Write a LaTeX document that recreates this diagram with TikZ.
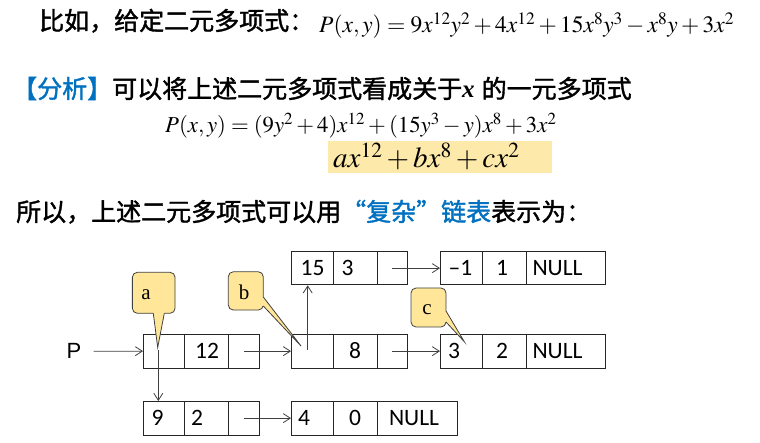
\documentclass[tikz,border=0pt]{standalone}
\usepackage{mathptmx}
\usepackage{fontspec}
\setmainfont{Liberation Serif}
\newfontfamily\cjkfont{Noto Sans CJK SC}[FakeBold=1.5]
\newfontfamily\calfont{Carlito}
\newfontfamily\arfont{Liberation Sans}
\usetikzlibrary{arrows.meta}
\definecolor{cblue}{HTML}{0070C0}
\definecolor{cfill}{HTML}{FFE699}
\definecolor{hfill}{HTML}{FDE9A9}
\definecolor{lgray}{HTML}{404040}
\tikzset{
  cell/.style={draw=black!85, line width=0.8pt, minimum height=33.5pt, inner sep=0pt, anchor=north west},
  ctext/.style={font=\calfont\fontsize{23.5}{28}\selectfont, inner sep=0pt},
  arr/.style={draw=lgray, line width=0.8pt, -{Straight Barb[length=7pt,width=9pt]}},
  callbox/.style={draw=lgray, fill=cfill, line width=0.8pt, rounded corners=5pt, inner sep=0pt},
  calltext/.style={font=\fontsize{21}{25}\selectfont, inner sep=0pt},
  txt/.style={inner sep=0pt, anchor=base west},
  cjk/.style={font=\cjkfont\fontsize{25}{30}\selectfont}
}
\begin{document}
\begin{tikzpicture}[x=1pt,y=-1pt]
\useasboundingbox (0,0) rectangle (760,443);
% ---- texts
\node[txt,cjk] (l1) at (39,30) {比如，给定二元多项式：};
\node[txt,font=\fontsize{23.5}{28}\selectfont] (f1) at (319,33) {$P(x,y)=9x^{12}y^2+4x^{12}+15x^8y^3-x^8y+3x^2$};
\node[txt,cjk] (l2) at (12,98) {{\color{cblue}【分析】}可以将上述二元多项式看成关于{\rmfamily\bfseries\itshape x}\hspace{7pt}的一元多项式};
\node[txt,font=\fontsize{22.8}{27}\selectfont] (f2) at (165,133) {$P(x,y)=(9y^2+4)x^{12}+(15y^3-y)x^8+3x^2$};
\node[fill=hfill, minimum width=224pt, minimum height=32pt, inner sep=0pt, anchor=north west] (hb) at (328,141) {};
\node[txt,font=\fontsize{29}{34}\selectfont] (f3) at (333,168) {$ax^{12}+bx^8+cx^2$};
\node[txt,cjk] (l4) at (16,221) {所以，上述二元多项式可以用{\color{cblue}“复杂”链表}表示为：};
% ---- cells
% main row
\node[cell,minimum width=41pt] (n1a) at (143,334) {};
\node[cell,minimum width=44pt] (n1b) at (184,334) {};
\node[cell,minimum width=31pt] (n1c) at (228,334) {};
\node[cell,minimum width=42pt] (n2a) at (291,334) {};
\node[cell,minimum width=44pt] (n2b) at (333,334) {};
\node[cell,minimum width=30pt] (n2c) at (377,334) {};
\node[cell,minimum width=42pt] (n3a) at (440,334) {};
\node[cell,minimum width=44pt] (n3b) at (482,334) {};
\node[cell,minimum width=79pt] (n3c) at (526,334) {};
% top row
\node[cell,minimum width=42pt] (t1a) at (291,251) {};
\node[cell,minimum width=44pt] (t1b) at (333,251) {};
\node[cell,minimum width=30pt] (t1c) at (377,251) {};
\node[cell,minimum width=42pt] (t2a) at (440,251) {};
\node[cell,minimum width=44pt] (t2b) at (482,251) {};
\node[cell,minimum width=79pt] (t2c) at (526,251) {};
% bottom row
\node[cell,minimum width=41pt] (b1a) at (143,401) {};
\node[cell,minimum width=44pt] (b1b) at (184,401) {};
\node[cell,minimum width=31pt] (b1c) at (228,401) {};
\node[cell,minimum width=42pt] (b2a) at (291,401) {};
\node[cell,minimum width=44pt] (b2b) at (333,401) {};
\node[cell,minimum width=80pt] (b2c) at (377,401) {};
% cell texts
\node[ctext] (x1) at (207,351) {12};
\node[ctext] (x2) at (355,351) {8};
\node[ctext] (x3) at (454,351) {3};
\node[ctext] (x4) at (502,351) {2};
\node[ctext] (x5) at (557.5,351) {NULL};
\node[ctext] (x6) at (312.5,268) {15};
\node[ctext] (x7) at (347.5,268) {3};
\node[ctext] (x8) at (460.5,268) {–1};
\node[ctext] (x9) at (502,268) {1};
\node[ctext] (x10) at (557.5,268) {NULL};
\node[ctext] (x11) at (157.5,418) {9};
\node[ctext] (x12) at (197,418) {2};
\node[ctext] (x13) at (304,418) {4};
\node[ctext] (x14) at (355,418) {0};
\node[ctext] (x15) at (414,418) {NULL};
\node[inner sep=0pt, font=\arfont\fontsize{22}{26}\selectfont] (P) at (74,351.3) {P};
% ---- arrows
\draw[arr, shorten <=12pt] (P) -- (n1a.west);
\draw[arr] (n1c.center) -- (n2a.west);
\draw[arr] (n2c.center) -- (n3a.west);
\draw[arr] (t1c.center) -- (t2a.west);
\draw[arr] (b1c.center) -- (b2a.west);
\coordinate (da) at (158.3,350);
\coordinate (ua) at (307.7,350);
\draw[arr] (da) -- (da |- b1a.north);
\draw[arr] (ua) -- (ua |- t1a.south);
% ---- callouts
\coordinate (tipa) at (157.7,347.5);
\coordinate (tipb) at (301,346);
\coordinate (tipc) at (464.3,341.7);
\node[callbox, minimum width=42.7pt, minimum height=41pt] (ca) at (153.7,292.8) {};
\fill[cfill] (153.3,309) -- (153.3,313.3) -- (tipa) -- (164.3,313.3) -- (164.3,309) -- cycle;
\draw[lgray, line width=0.8pt] (153.3,313.3) -- (tipa) -- (164.3,313.3);
\node[calltext] (la) at (146,295) {a};
\node[callbox, minimum width=35pt, minimum height=38.3pt] (cb) at (245.8,290.9) {};
\fill[cfill] (259,297) -- (263.3,297) -- (tipb) -- (263.3,306) -- (259,306) -- cycle;
\draw[lgray, line width=0.8pt] (263.3,297) -- (tipb) -- (263.3,306);
\node[calltext] (lb) at (244,292) {b};
\node[callbox, minimum width=35pt, minimum height=39pt] (cc) at (428.5,307.5) {};
\fill[cfill] (442,311) -- (446,311) -- (tipc) -- (446,322) -- (442,322) -- cycle;
\draw[lgray, line width=0.8pt] (446,311) -- (tipc) -- (446,322);
\node[calltext] (lc) at (427,310) {c};
\end{tikzpicture}
\end{document}
